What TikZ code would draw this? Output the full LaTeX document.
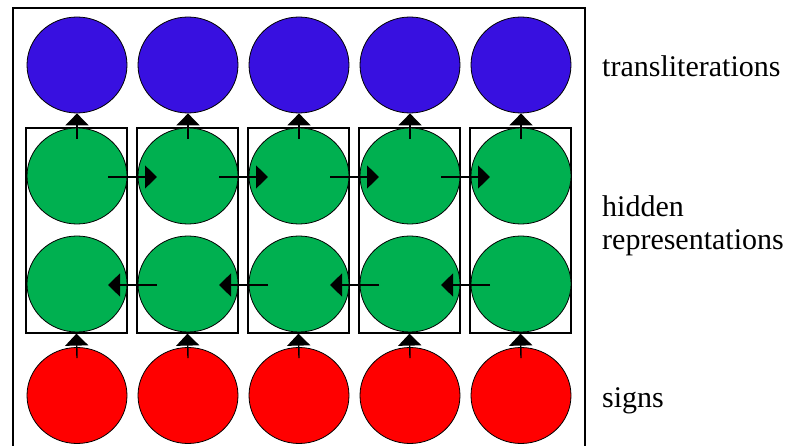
\documentclass[tikz,border=0pt]{standalone}
\usepackage{fontspec}
\setmainfont{Liberation Serif}
\usepackage{xcolor}
\usetikzlibrary{arrows.meta,positioning,shapes.geometric}

\definecolor{translit}{RGB}{56,16,224}
\definecolor{hidden}{RGB}{0,176,80}
\definecolor{sign}{RGB}{255,0,0}

\begin{document}
\begin{tikzpicture}[
  x=1pt, y=-1pt,
  unit/.style={ellipse, draw, line width=0.8pt, minimum width=100pt, minimum height=96pt, inner sep=0pt},
  colbox/.style={rectangle, draw, line width=1.2pt, minimum width=101pt, minimum height=205pt, inner sep=0pt},
  flow/.style={draw, line width=1.4pt, -{Triangle[length=12pt, width=23pt]}},
  label/.style={font=\fontsize{30}{33}\selectfont, align=left, inner sep=0pt}
]
  \useasboundingbox (0,0) rectangle (787,446);
  \draw[line width=1.6pt] (13,448) -- (13,8) -- (585,8) -- (585,448);

  \foreach \i/\x in {1/77,2/188,3/299,4/410,5/521} {
    \node[colbox] (col\i) at (\x-0.5,230.5) {};
    \node[unit, fill=translit] (b\i) at (\x,65) {};
    \node[unit, fill=hidden] (g\i) at (\x,176) {};
    \node[unit, fill=hidden] (h\i) at (\x,284) {};
    \node[unit, fill=sign] (r\i) at (\x,395.5) {};
  }

  \foreach \i in {1,...,5} {
    \draw[flow] ([yshift=-11pt]g\i.north) -- (b\i.south);
    \draw[flow] ([yshift=-11pt]r\i.north) -- (col\i.south);
  }

  % forward and backward passes
  \foreach \i/\j in {1/2,2/3,3/4,4/5} {
    \draw[flow] ([xshift=31pt,yshift=-1pt]g\i.center) -- ([xshift=-31pt,yshift=-1pt]g\j.center);
    \draw[flow] ([xshift=-31pt,yshift=-1pt]h\j.center) -- ([xshift=31pt,yshift=-1pt]h\i.center);
  }

  \node[label, anchor=base west] (ltrans) at (602,77) {transliterations};
  \node[label, anchor=base west] (lhidden) at (602,250) {hidden\\representations};
  \node[label, anchor=base west] (lsigns) at (602,407) {signs};
\end{tikzpicture}
\end{document}
